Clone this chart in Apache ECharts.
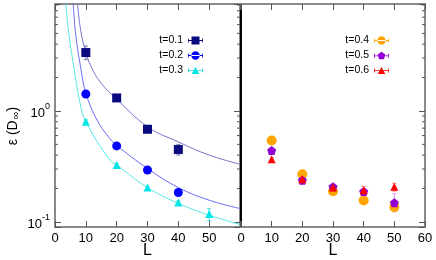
<!DOCTYPE html>
<html><head><meta charset="utf-8">
<script src="https://cdn.jsdelivr.net/npm/echarts@6/dist/echarts.min.js"></script>
<style>html,body{margin:0;padding:0;background:#fff}#c{width:436px;height:260px}</style>
</head><body><div id="c"></div>
<script>
// ---------- data ----------
const xTickValues = [0, 10, 20, 30, 40, 50, 60];
const yMinorTicks = [0.2,0.3,0.4,0.5,0.6,0.7,0.8,0.9,2,3,4,5,6,7,8,9];
const L = [10, 20, 30, 40, 50];

const t01 = [3.36, 1.31, 0.684, 0.449];
const t01Err = [[2.9, 3.85], [1.22, 1.40], [0.64, 0.74], [0.40, 0.50]];
const t02 = [1.42, 0.484, 0.294, 0.184];
const t02Err = [[1.37, 1.47], [0.47, 0.50], [0.286, 0.302], [0.178, 0.19]];
const t03 = [0.80, 0.326, 0.204, 0.150, 0.118];
const t03Err = [[0.77, 0.83], [0.316, 0.336], [0.198, 0.21], [0.145, 0.155], [0.103, 0.132]];

const t04 = [0.541, 0.269, 0.189, 0.156, 0.136];
const t04Err = [[0.525, 0.557], [0.262, 0.276], [0.184, 0.194], [0.152, 0.160], [0.128, 0.145]];
const t05 = [0.44, 0.238, 0.207, 0.188, 0.149];
const t05Err = [[0.43, 0.45], [0.232, 0.244], [0.201, 0.213], [0.178, 0.200], [0.123, 0.180]];
const t06 = [0.367, 0.242, 0.204, 0.193, 0.207];
const t06Err = [[0.358, 0.376], [0.236, 0.248], [0.197, 0.211], [0.178, 0.209], [0.190, 0.223]];

// fitted curves
const fit01L = [7.3, 8.4, 10, 11.6, 14.8, 20, 30, 40, 50, 60];
const fit01 = [9.2, 5.2, 3.4, 2.55, 1.8, 1.28, 0.72, 0.526, 0.40, 0.331];
const fit02L = [5.9, 6.75, 8.4, 10, 13.7, 17.8, 20, 30, 40, 50, 60];
const fit02 = [9.2, 4.8, 2.4, 1.45, 0.82, 0.564, 0.49, 0.303, 0.204, 0.157, 0.132];
const fit03L = [3.5, 4.57, 6.2, 7.8, 9.9, 17.8, 20, 30, 40, 50, 60];
const fit03 = [9.2, 4.78, 2.39, 1.3, 0.81, 0.36, 0.326, 0.204, 0.147, 0.115, 0.095];

// ---------- styling ----------
const FONT = '"Liberation Sans", Arial, Helvetica, sans-serif';
const FRAME = '#8a8a8a';
const TICK = '#555';
const C = {
  t01: '#0a0a80', t02: '#0000ff', t03: '#00e5e5',
  t04: '#ffa500', t05: '#9400d3', t06: '#ff0000',
  f01: '#7474cc', f02: '#6a6af5', f03: '#55e6e6'
};
const pentagon = 'path://M0,-1 L0.951,-0.309 L0.588,0.809 L-0.588,0.809 L-0.951,-0.309 Z';
const bar = 'M0,4.1 H15 V4.9 H0 Z M0,2.5 H0.8 V6.5 H0 Z M14.2,2.5 H15 V6.5 H14.2 Z ';
const icSq = 'path://' + bar + 'M3.5,0.5 H11.5 V8.5 H3.5 Z';
const icCi = 'path://' + bar + 'M3.3,4.5 A4.2,4.2 0 1 0 11.7,4.5 A4.2,4.2 0 1 0 3.3,4.5 Z';
const icTr = 'path://' + bar + 'M7.5,0.8 L11.3,8 L3.7,8 Z';
const icPe = 'path://' + bar + 'M7.5,0.4 L11.3,3.2 L9.9,7.9 L5.1,7.9 L3.7,3.2 Z';

function zip(xs, ys) { return xs.map((x, i) => [x, ys[i]]); }
function errData(ys) { return ys.map((e, i) => [L[i], e[0], e[1]]); }

function errRender(color) {
  return function (params, api) {
    const x = api.value(0);
    const a = api.coord([x, api.value(1)]);
    const b = api.coord([x, api.value(2)]);
    const w = 2;
    const st = { stroke: color, lineWidth: 1 };
    return { type: 'group', children: [
      { type: 'line', shape: { x1: a[0], y1: a[1], x2: b[0], y2: b[1] }, style: st },
      { type: 'line', shape: { x1: a[0] - w, y1: a[1], x2: a[0] + w, y2: a[1] }, style: st },
      { type: 'line', shape: { x1: b[0] - w, y1: b[1], x2: b[0] + w, y2: b[1] }, style: st }
    ]};
  };
}
function minorRender(bothSides) {
  return function (params, api) {
    const cs = params.coordSys;
    const y = api.coord([0, api.value(1)])[1];
    const st = { stroke: TICK, lineWidth: 1 };
    const ch = [{ type: 'line', shape: { x1: cs.x + cs.width - 3, y1: y, x2: cs.x + cs.width, y2: y }, style: st }];
    if (bothSides) ch.push({ type: 'line', shape: { x1: cs.x, y1: y, x2: cs.x + 3, y2: y }, style: st });
    return { type: 'group', children: ch };
  };
}

function yFmt(v) {
  const lg = Math.log10(v);
  const e = Math.round(lg);
  if (Math.abs(lg - e) > 1e-6) return '';
  return '{b|10}{s|' + (e < 0 ? '-' + (-e) : e) + '}';
}

const yCommon = { type: 'log', logBase: 10, min: 0.09, max: 9.2, splitLine: { show: false } };
const xCommon = { type: 'value', min: 0, max: 60, interval: 10, splitLine: { show: false } };
const tickIn = { show: true, inside: true, length: 6, lineStyle: { color: TICK, width: 1 } };
const frameLine = { show: true, onZero: false, lineStyle: { color: FRAME, width: 2 } };
const labStyle = { fontFamily: FONT, fontSize: 13, color: '#000' };
const xName = { name: 'L', nameLocation: 'middle', nameGap: 16, nameMoveOverlap: false,
  nameTextStyle: { fontFamily: FONT, fontSize: 16, color: '#000' } };

const option = {
  animation: false,
  backgroundColor: '#fff',
  grid: [
    { left: 55, top: 4, width: 185, height: 223, outerBoundsMode: 'none', containLabel: false },
    { left: 241, top: 4, width: 184, height: 223, outerBoundsMode: 'none', containLabel: false }
  ],
  xAxis: [
    Object.assign({}, xCommon, xName, { gridIndex: 0, position: 'bottom', axisLine: frameLine, axisTick: tickIn,
      axisLabel: Object.assign({ margin: 5, formatter: v => (v === 60 ? '' : String(v)) }, labStyle) }),
    Object.assign({}, xCommon, { gridIndex: 0, position: 'top', axisLine: frameLine, axisTick: tickIn, axisLabel: { show: false } }),
    Object.assign({}, xCommon, xName, { gridIndex: 1, position: 'bottom', axisLine: frameLine, axisTick: tickIn,
      axisLabel: Object.assign({ margin: 5 }, labStyle) }),
    Object.assign({}, xCommon, { gridIndex: 1, position: 'top', axisLine: frameLine, axisTick: tickIn, axisLabel: { show: false } })
  ],
  yAxis: [
    Object.assign({}, yCommon, { gridIndex: 0, position: 'left', axisLine: frameLine, axisTick: tickIn,
      axisLabel: { margin: 5, formatter: yFmt, rich: {
        b: { fontFamily: FONT, fontSize: 13, color: '#000', padding: [4, 0, 0, 0] },
        s: { fontFamily: FONT, fontSize: 9, color: '#000', padding: [0, 0, 8, 0] } } },
      name: '{a|ε (D}{s|∞}{a|)}', nameLocation: 'middle', nameGap: 34, nameMoveOverlap: false,
      nameTextStyle: { padding: [0, 21, 0, 0], rich: {
        a: { fontFamily: FONT, fontSize: 14, color: '#000' },
        s: { fontFamily: FONT, fontSize: 11, color: '#000', padding: [5, 0, 0, 1] } } } }),
    Object.assign({}, yCommon, { gridIndex: 0, position: 'right', axisLine: frameLine, axisTick: tickIn, axisLabel: { show: false } }),
    Object.assign({}, yCommon, { gridIndex: 1, position: 'left', axisLine: { show: true, lineStyle: { color: '#000', width: 2 } }, axisTick: { show: false }, axisLabel: { show: false } }),
    Object.assign({}, yCommon, { gridIndex: 1, position: 'right', axisLine: frameLine, axisTick: tickIn, axisLabel: { show: false } })
  ],
  legend: [
    { orient: 'vertical', right: 233, top: 35, padding: 0, align: 'right', itemWidth: 15, itemHeight: 9, itemGap: 4,
      textStyle: { fontFamily: FONT, fontSize: 10.5, color: '#000' },
      data: [{ name: 't=0.1', icon: icSq }, { name: 't=0.2', icon: icCi }, { name: 't=0.3', icon: icTr }] },
    { orient: 'vertical', right: 47, top: 35, padding: 0, align: 'right', itemWidth: 15, itemHeight: 9, itemGap: 4,
      textStyle: { fontFamily: FONT, fontSize: 10.5, color: '#000' },
      data: [{ name: 't=0.4', icon: icCi }, { name: 't=0.5', icon: icPe }, { name: 't=0.6', icon: icTr }] }
  ],
  series: [
    { type: 'custom', xAxisIndex: 0, yAxisIndex: 0, renderItem: minorRender(true), data: yMinorTicks.map(v => [0, v]), silent: true, z: 1 },
    { type: 'custom', xAxisIndex: 2, yAxisIndex: 2, renderItem: minorRender(false), data: yMinorTicks.map(v => [0, v]), silent: true, z: 1 },
    // fitted curves
    { name: 'fit0.1', type: 'line', xAxisIndex: 0, yAxisIndex: 0, data: zip(fit01L, fit01), smooth: 0.4, showSymbol: false, lineStyle: { color: C.f01, width: 1 }, silent: true, z: 1 },
    { name: 'fit0.2', type: 'line', xAxisIndex: 0, yAxisIndex: 0, data: zip(fit02L, fit02), smooth: 0.4, showSymbol: false, lineStyle: { color: C.f02, width: 1 }, silent: true, z: 1 },
    { name: 'fit0.3', type: 'line', xAxisIndex: 0, yAxisIndex: 0, data: zip(fit03L, fit03), smooth: 0.4, showSymbol: false, lineStyle: { color: C.f03, width: 1 }, silent: true, z: 1 },
    // error bars
    { type: 'custom', xAxisIndex: 0, yAxisIndex: 0, renderItem: errRender('#7a7ab8'), data: errData(t01Err), encode: { x: 0, y: [1, 2] }, z: 1 },
    { type: 'custom', xAxisIndex: 0, yAxisIndex: 0, renderItem: errRender('#6a6af5'), data: errData(t02Err), encode: { x: 0, y: [1, 2] }, z: 1 },
    { type: 'custom', xAxisIndex: 0, yAxisIndex: 0, renderItem: errRender('#55e0e0'), data: errData(t03Err), encode: { x: 0, y: [1, 2] }, z: 1 },
    { type: 'custom', xAxisIndex: 2, yAxisIndex: 2, renderItem: errRender('#ffc870'), data: errData(t04Err), encode: { x: 0, y: [1, 2] }, z: 1 },
    { type: 'custom', xAxisIndex: 2, yAxisIndex: 2, renderItem: errRender('#d8a0e8'), data: errData(t05Err), encode: { x: 0, y: [1, 2] }, z: 1 },
    { type: 'custom', xAxisIndex: 2, yAxisIndex: 2, renderItem: errRender('#ff7070'), data: errData(t06Err), encode: { x: 0, y: [1, 2] }, z: 1 },
    // points
    { name: 't=0.1', type: 'scatter', xAxisIndex: 0, yAxisIndex: 0, data: zip(L, t01), symbol: 'rect', symbolSize: 9, itemStyle: { color: C.t01, opacity: 1 }, z: 5 },
    { name: 't=0.2', type: 'scatter', xAxisIndex: 0, yAxisIndex: 0, data: zip(L, t02), symbol: 'circle', symbolSize: 9, itemStyle: { color: C.t02, opacity: 1 }, z: 5 },
    { name: 't=0.3', type: 'scatter', xAxisIndex: 0, yAxisIndex: 0, data: zip(L, t03), symbol: 'triangle', symbolSize: 8, itemStyle: { color: C.t03, opacity: 1 }, z: 5 },
    { name: 't=0.4', type: 'scatter', xAxisIndex: 2, yAxisIndex: 2, data: zip(L, t04), symbol: 'circle', symbolSize: 10, itemStyle: { color: C.t04, opacity: 1 }, z: 5 },
    { name: 't=0.5', type: 'scatter', xAxisIndex: 2, yAxisIndex: 2, data: zip(L, t05), symbol: pentagon, symbolSize: 9, itemStyle: { color: C.t05, opacity: 1 }, z: 5 },
    { name: 't=0.6', type: 'scatter', xAxisIndex: 2, yAxisIndex: 2, data: zip(L, t06), symbol: 'triangle', symbolSize: 8, itemStyle: { color: C.t06, opacity: 1 }, z: 5 }
  ]
};
const chart = echarts.init(document.getElementById('c'), null, { renderer: 'canvas' });
chart.setOption(option);
</script>
</body></html>
